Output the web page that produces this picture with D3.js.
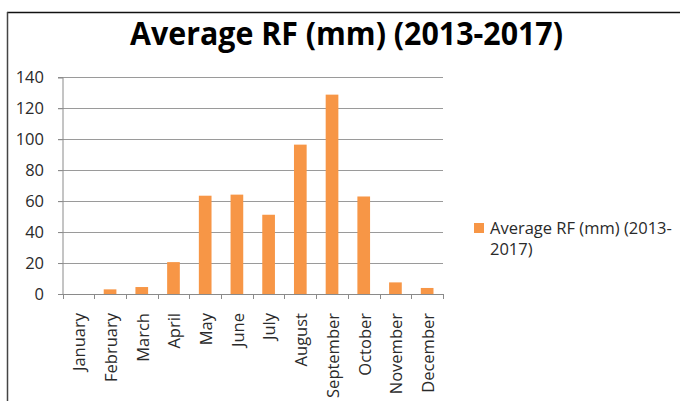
<!DOCTYPE html>
<html><head><meta charset="utf-8">
<script src="https://cdn.jsdelivr.net/npm/d3@7"></script>
<style>
html,body{margin:0;padding:0;background:#fff;overflow:hidden;}
svg{display:block;font-family:"Open Sans",sans-serif;}
</style></head>
<body>
<svg id="c" width="680" height="401"></svg>
<script>
const months = ["January","February","March","April","May","June","July","August","September","October","November","December"];
const rainfall = [0, 3, 4.5, 20.6, 63.5, 64.2, 51.2, 96.5, 128.8, 63, 7.5, 3.9];
const yTicks = [0, 20, 40, 60, 80, 100, 120, 140];
const titleText = "Average RF (mm) (2013-2017)";
const legendLines = ["Average RF (mm) (2013-", "2017)"];

const svg = d3.select("#c");
const W = 680, H = 401;
const plot = {left: 62.5, right: 443, top: 77.3, bottom: 294};
const FS = 16.5;

// chart border
svg.append("line").attr("x1",7).attr("x2",W).attr("y1",12.5).attr("y2",12.5).attr("stroke","#111").attr("stroke-width",1.5);
svg.append("line").attr("x1",7.5).attr("x2",7.5).attr("y1",12).attr("y2",H).attr("stroke","#444").attr("stroke-width",1.5);

// title
const title = svg.append("text").attr("x",346.5).attr("y",45).attr("text-anchor","middle")
  .attr("font-size",32).attr("font-weight","bold").attr("fill","#000").text(titleText);
title.attr("textLength",433).attr("lengthAdjust","spacingAndGlyphs");

const x = d3.scaleBand().domain(months).range([plot.left, plot.right]).paddingInner(0).paddingOuter(0);
const y = d3.scaleLinear().domain([0,140]).range([plot.bottom, plot.top]);

// gridlines
svg.append("g").selectAll("line").data(yTicks.filter(d=>d>0)).join("line")
  .attr("x1",plot.left-4.5).attr("x2",plot.right)
  .attr("y1",d=>Math.round(y(d))+0.5).attr("y2",d=>Math.round(y(d))+0.5)
  .attr("stroke","#9a9a9a").attr("stroke-width",1);

// y axis
const yAxis = svg.append("g").attr("transform",`translate(${plot.left},0)`)
  .call(d3.axisLeft(y).tickValues(yTicks).tickSize(4.5).tickPadding(14));
yAxis.select(".domain").attr("stroke","#8a8a8a");
yAxis.selectAll(".tick line").attr("stroke","#8a8a8a");
yAxis.selectAll("text").attr("font-size",FS).attr("fill","#2a2a2a").attr("font-family","Open Sans, sans-serif");

// bars
const bw = x.bandwidth()/2.5;
svg.append("g").selectAll("rect").data(months).join("rect")
  .attr("x",(d)=>x(d)+x.bandwidth()/2-bw/2)
  .attr("width",bw)
  .attr("y",(d,i)=>y(rainfall[i]))
  .attr("height",(d,i)=>y(0)-y(rainfall[i]))
  .attr("fill","#F79646");

// x axis
const xAxisG = svg.append("g").attr("transform",`translate(0,${plot.bottom})`);
xAxisG.append("line").attr("x1",plot.left-4.5).attr("x2",plot.right).attr("y1",0.5).attr("y2",0.5).attr("stroke","#8a8a8a");
const boundaries = months.map(m=>x(m)).concat([plot.right]);
xAxisG.selectAll("line.tk").data(boundaries).join("line").attr("class","tk")
  .attr("x1",d=>Math.round(d)+0.5).attr("x2",d=>Math.round(d)+0.5).attr("y1",0).attr("y2",5)
  .attr("stroke","#8a8a8a");
xAxisG.selectAll("text").data(months).join("text")
  .attr("transform",d=>`translate(${x(d)+x.bandwidth()/2+1},19) rotate(-90)`)
  .attr("text-anchor","end").attr("dy","0.35em")
  .attr("font-size",FS).attr("fill","#2a2a2a").text(d=>d);

// legend
const lg = svg.append("g");
lg.append("rect").attr("x",474).attr("y",223).attr("width",10).attr("height",10).attr("fill","#F79646");
lg.selectAll("text").data(legendLines).join("text")
  .attr("x",490).attr("y",(d,i)=>233.5+i*21)
  .attr("font-size",FS).attr("fill","#2a2a2a").text(d=>d);
</script>
</body></html>
